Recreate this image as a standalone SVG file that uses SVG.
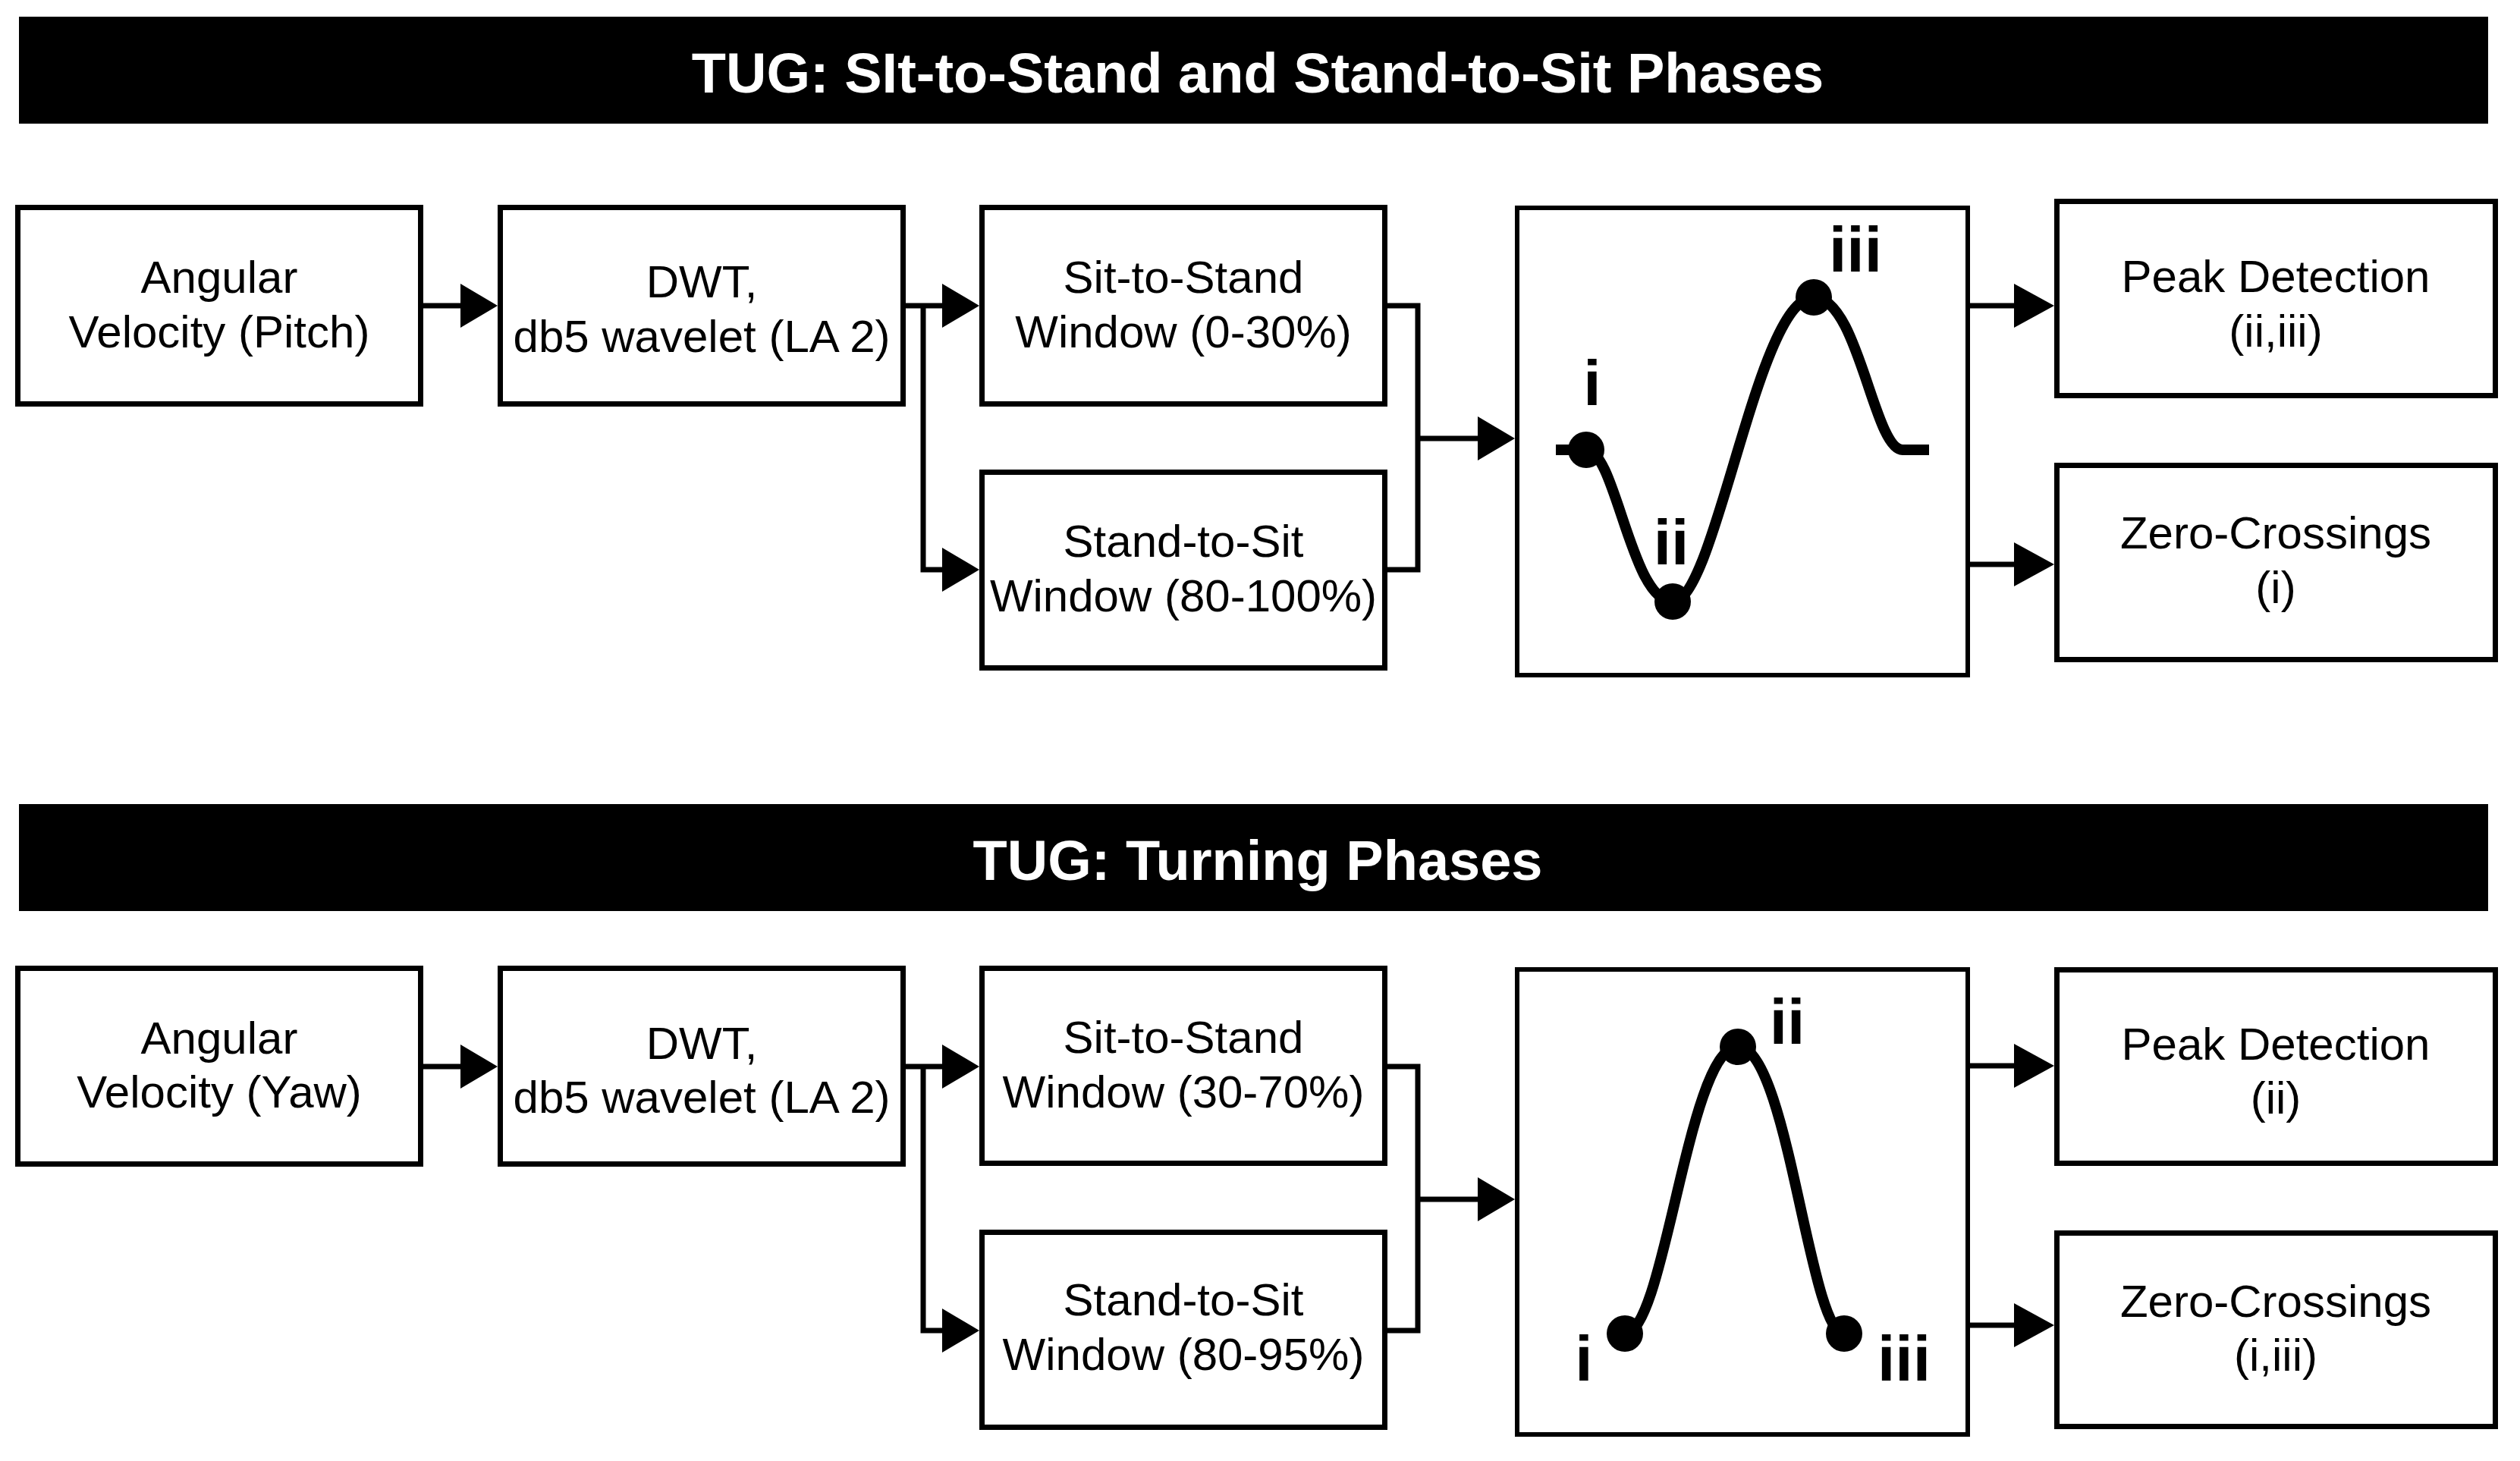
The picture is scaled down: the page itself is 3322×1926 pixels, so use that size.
<svg xmlns="http://www.w3.org/2000/svg" width="3322" height="1926" viewBox="0 0 3322 1926">
<defs>
<style>
.box{fill:#fff;stroke:#000;stroke-width:7}
.gbox{fill:#fff;stroke:#000;stroke-width:6}
.t{font-family:"Liberation Sans",Arial,sans-serif;font-size:60px;fill:#000;text-anchor:middle}
.title{font-family:"Liberation Sans",Arial,sans-serif;font-size:74px;font-weight:bold;fill:#fff;text-anchor:middle}
.lbl{font-family:"Liberation Sans",Arial,sans-serif;font-size:84px;font-weight:bold;fill:#000;text-anchor:middle}
.ln{fill:none;stroke:#000;stroke-width:7}
.curve{fill:none;stroke:#000;stroke-width:14}
.ah{fill:#000}
</style>
</defs>
<rect width="3322" height="1926" fill="#fff"/>

<g id="banner1">
<rect x="25" y="22" width="3255" height="141" fill="#000"/>
<text class="title" x="1658" y="122">TUG: SIt-to-Stand and Stand-to-Sit Phases</text>
</g>
<g id="banner2">
<rect x="25" y="1060" width="3255" height="141" fill="#000"/>
<text class="title" x="1658" y="1160">TUG: Turning Phases</text>
</g>

<g id="connectors">
<path class="ln" d="M558,403 H612"/>
<polygon class="ah" points="607,374 656,403 607,432"/>
<path class="ln" d="M1194,403 H1247 M1217,403 V751 H1247"/>
<polygon class="ah" points="1242,374 1291,403 1242,432"/>
<polygon class="ah" points="1242,722 1291,751 1242,780"/>
<path class="ln" d="M1829,403 H1869 V751 H1829 M1869,578 H1953"/>
<polygon class="ah" points="1948,549 1997,578 1948,607"/>
<path class="ln" d="M2597,403 H2660"/>
<polygon class="ah" points="2655,374 2708,403 2655,432"/>
<path class="ln" d="M2597,744 H2660"/>
<polygon class="ah" points="2655,715 2708,744 2655,773"/>
<path class="ln" d="M558,1406 H612"/>
<polygon class="ah" points="607,1377 656,1406 607,1435"/>
<path class="ln" d="M1194,1406 H1247 M1217,1406 V1754 H1247"/>
<polygon class="ah" points="1242,1377 1291,1406 1242,1435"/>
<polygon class="ah" points="1242,1725 1291,1754 1242,1783"/>
<path class="ln" d="M1829,1406 H1869 V1754 H1829 M1869,1581 H1953"/>
<polygon class="ah" points="1948,1552 1997,1581 1948,1610"/>
<path class="ln" d="M2597,1405 H2660"/>
<polygon class="ah" points="2655,1376 2708,1405 2655,1434"/>
<path class="ln" d="M2597,1747 H2660"/>
<polygon class="ah" points="2655,1718 2708,1747 2655,1776"/>
</g>

<g id="pitch-input">
<rect class="box" x="23.5" y="273.5" width="531" height="259"/>
<text class="t" x="289" y="386">Angular</text>
<text class="t" x="289" y="458">Velocity (Pitch)</text>
</g>
<g id="pitch-dwt">
<rect class="box" x="659.5" y="273.5" width="531" height="259"/>
<text class="t" x="925" y="392">DWT,</text>
<text class="t" x="925" y="464">db5 wavelet (LA 2)</text>
</g>
<g id="pitch-sit-to-stand">
<rect class="box" x="1294.5" y="273.5" width="531" height="259"/>
<text class="t" x="1560" y="386">Sit-to-Stand</text>
<text class="t" x="1560" y="458">Window (0-30%)</text>
</g>
<g id="pitch-stand-to-sit">
<rect class="box" x="1294.5" y="622.5" width="531" height="258"/>
<text class="t" x="1560" y="734">Stand-to-Sit</text>
<text class="t" x="1560" y="806">Window (80-100%)</text>
</g>
<g id="pitch-signal">
<rect class="gbox" x="2000" y="274" width="594" height="616"/>
<path class="curve" d="M2051,593 L2091,593 C2130,593 2150,793 2205,793 C2262,793 2316,392 2391,392 C2450,392 2470,593 2508,593 L2543,593"/>
<circle cx="2091" cy="593" r="24"/>
<circle cx="2205" cy="793" r="24"/>
<circle cx="2391" cy="392" r="24"/>
<text class="lbl" x="2099" y="534">i</text>
<text class="lbl" x="2203" y="744">ii</text>
<text class="lbl" x="2446" y="358">iii</text>
</g>
<g id="pitch-peak">
<rect class="box" x="2711.5" y="265.5" width="578" height="256"/>
<text class="t" x="3000" y="385">Peak Detection</text>
<text class="t" x="3000" y="457">(ii,iii)</text>
</g>
<g id="pitch-zero">
<rect class="box" x="2711.5" y="613.5" width="578" height="256"/>
<text class="t" x="3000" y="723">Zero-Crossings</text>
<text class="t" x="3000" y="795">(i)</text>
</g>

<g id="yaw-input">
<rect class="box" x="23.5" y="1276.5" width="531" height="258"/>
<text class="t" x="289" y="1389">Angular</text>
<text class="t" x="289" y="1460">Velocity (Yaw)</text>
</g>
<g id="yaw-dwt">
<rect class="box" x="659.5" y="1276.5" width="531" height="258"/>
<text class="t" x="925" y="1396">DWT,</text>
<text class="t" x="925" y="1467">db5 wavelet (LA 2)</text>
</g>
<g id="yaw-sit-to-stand">
<rect class="box" x="1294.5" y="1276.5" width="531" height="257"/>
<text class="t" x="1560" y="1388">Sit-to-Stand</text>
<text class="t" x="1560" y="1460">Window (30-70%)</text>
</g>
<g id="yaw-stand-to-sit">
<rect class="box" x="1294.5" y="1624.5" width="531" height="257"/>
<text class="t" x="1560" y="1734">Stand-to-Sit</text>
<text class="t" x="1560" y="1806">Window (80-95%)</text>
</g>
<g id="yaw-signal">
<rect class="gbox" x="2000" y="1278" width="594" height="613"/>
<path class="curve" d="M2142,1758 C2195,1758 2225,1380 2291,1380 C2357,1380 2385,1758 2431,1758"/>
<circle cx="2142" cy="1758" r="24"/>
<circle cx="2291" cy="1380" r="24"/>
<circle cx="2431" cy="1758" r="24"/>
<text class="lbl" x="2088" y="1820">i</text>
<text class="lbl" x="2356" y="1376">ii</text>
<text class="lbl" x="2510" y="1820">iii</text>
</g>
<g id="yaw-peak">
<rect class="box" x="2711.5" y="1278.5" width="578" height="255"/>
<text class="t" x="3000" y="1397">Peak Detection</text>
<text class="t" x="3000" y="1468">(ii)</text>
</g>
<g id="yaw-zero">
<rect class="box" x="2711.5" y="1625.5" width="578" height="255"/>
<text class="t" x="3000" y="1736">Zero-Crossings</text>
<text class="t" x="3000" y="1807">(i,iii)</text>
</g>
</svg>
